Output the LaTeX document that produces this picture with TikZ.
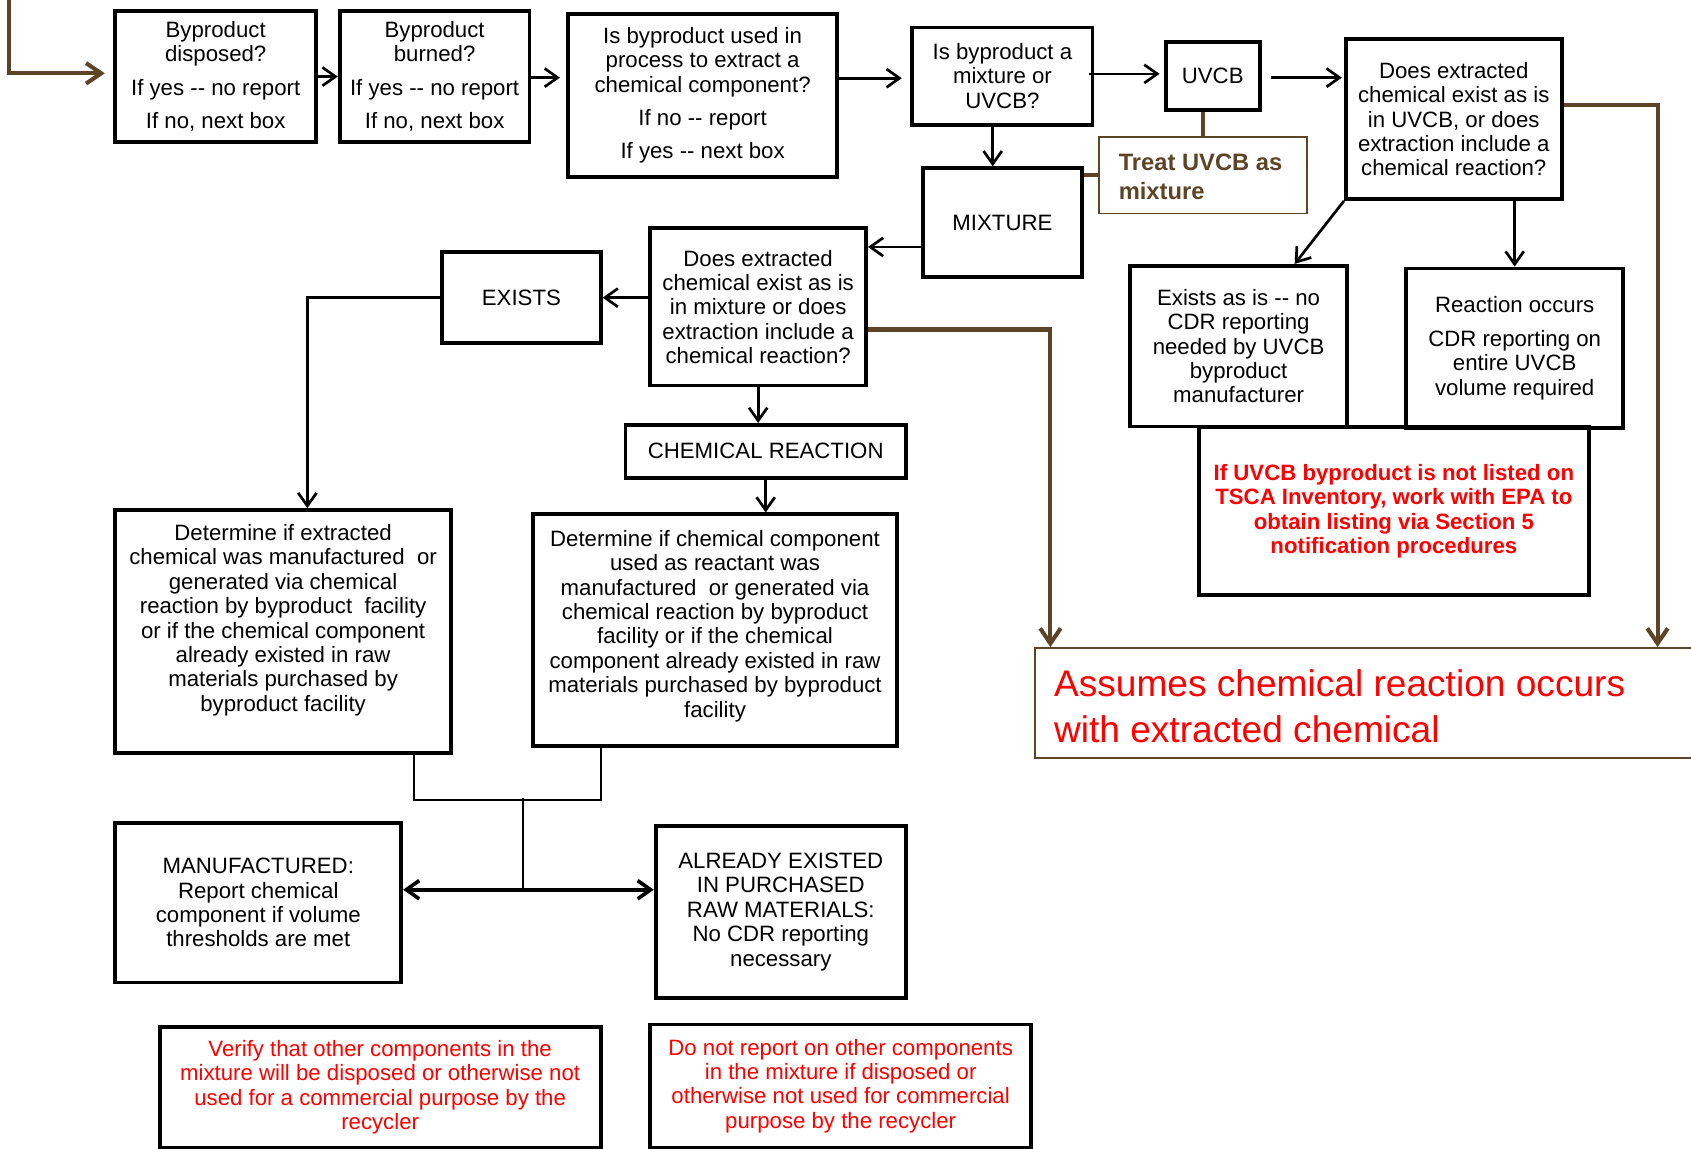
\documentclass[tikz,border=0pt]{standalone}
\usepackage{fontspec}
\setmainfont{Liberation Sans}
\usetikzlibrary{arrows.meta,calc}
\definecolor{brn}{RGB}{94,68,38}
\definecolor{rd}{RGB}{255,0,0}
\begin{document}
\begin{tikzpicture}[x=0.5pt,y=-0.5pt,
  f/.style={font=\fontsize{10.3}{11.3}\selectfont},
  box/.style={draw, line width=1.8pt, inner sep=0pt, align=center, f},
  txt/.style={inner sep=0pt, align=center, f},
  arr/.style={line width=1.25pt, -{Straight Barb[length=6pt,width=8.5pt]}},
  ln/.style={line width=1pt},
  barr/.style={draw=brn, line width=1.9pt, -{Straight Barb[length=7pt,width=9.5pt]}},
  bln/.style={draw=brn, line width=1.9pt},
]
\useasboundingbox (0,0) rectangle (1568,1065);

% boxes
\node[box, minimum width=93pt, minimum height=61pt] (b1) at (200,71)
  {Byproduct\\disposed?\\[4.2pt]If yes -{}- no report\\[4.2pt]If no, next box};
\node[box, minimum width=88pt, minimum height=61pt] (b2) at (403,71)
  {Byproduct\\burned?\\[4.2pt]If yes -{}- no report\\[4.2pt]If no, next box};
\node[box, minimum width=124.5pt, minimum height=75.5pt] (b3) at (651.5,88.5)
  {Is byproduct used in\\process to extract a\\chemical component?\\[4.2pt]If no -{}- report\\[4.2pt]If yes -{}- next box};
\node[box, minimum width=83.5pt, minimum height=45pt] (b4) at (929.5,70.5)
  {Is byproduct a\\mixture or\\UVCB?};
\node[box, minimum width=43.5pt, minimum height=31.5pt] (uvcb) at (1124.5,70.5) {UVCB};
\node[draw=brn, line width=0.8pt, minimum width=96.5pt, minimum height=35.5pt, inner sep=0pt] (treat) at (1115.5,162.5) {};
\node[anchor=west, inner sep=0pt, align=left, text=brn, font=\bfseries\fontsize{11}{13.5}\selectfont] (treatt) at (1037,164)
  {Treat UVCB as\\mixture};
\node[box, minimum width=100pt, minimum height=74pt] (ext) at (1348,110.5)
  {Does extracted\\chemical exist as is\\in UVCB, or does\\extraction include a\\chemical reaction?};
\node[box, minimum width=73.5pt, minimum height=50.5pt] (mix) at (929.5,206.5) {MIXTURE};
\node[box, minimum width=100pt, minimum height=73pt] (dmix) at (703,284.5)
  {Does extracted\\chemical exist as is\\in mixture or does\\extraction include a\\chemical reaction?};
\node[box, minimum width=73.5pt, minimum height=42pt] (exists) at (483.5,276) {EXISTS};
\node[box, minimum width=130pt, minimum height=24.5pt] (chem) at (710,418.5) {CHEMICAL REACTION};
\node[box, minimum width=100.5pt, minimum height=74.5pt] (nocdr) at (1148.5,321)
  {Exists as is -{}- no\\CDR reporting\\needed by UVCB\\byproduct\\manufacturer};
\node[box, minimum width=100.5pt, minimum height=74pt] (react) at (1404.5,323)
  {Reaction occurs\\[4.2pt]CDR reporting on\\entire UVCB\\volume required};
\node[box, minimum width=180.5pt, minimum height=78pt, text=rd, font=\bfseries\fontsize{10.3}{11.3}\selectfont] (redbox) at (1292.5,474)
  {If UVCB byproduct is not listed on\\TSCA Inventory, work with EPA to\\obtain listing via Section 5\\notification procedures};
\node[box, minimum width=155.5pt, minimum height=112.5pt] (detl) at (262.5,585.5) {};
\node[txt] (detlt) at (262.5,575)
  {Determine if extracted\\chemical was manufactured~ or\\generated via chemical\\reaction by byproduct~ facility\\or if the chemical component\\already existed in raw\\materials purchased by\\byproduct facility};
\node[box, minimum width=169pt, minimum height=107.5pt] (detm) at (663,584.5) {};
\node[txt] (detmt) at (663,580.5)
  {Determine if chemical component\\used as reactant was\\manufactured~ or generated via\\chemical reaction by byproduct\\facility or if the chemical\\component already existed in raw\\materials purchased by byproduct\\facility};
\node[box, minimum width=132.5pt, minimum height=74pt] (manu) at (239.5,837)
  {MANUFACTURED:\\Report chemical\\component if volume\\thresholds are met};
\node[box, minimum width=116pt, minimum height=79.5pt] (already) at (724,845.5)
  {ALREADY EXISTED\\IN PURCHASED\\RAW MATERIALS:\\No CDR reporting\\necessary};
\node[box, minimum width=204.5pt, minimum height=56pt, text=rd] (verify) at (352.5,1008)
  {Verify that other components in the\\mixture will be disposed or otherwise not\\used for a commercial purpose by the\\recycler};
\node[box, minimum width=176.5pt, minimum height=57pt, text=rd] (donot) at (779.5,1007)
  {Do not report on other components\\in the mixture if disposed or\\otherwise not used for commercial\\purpose by the recycler};
\node[draw=brn, line width=1pt, minimum width=310pt, minimum height=51pt, inner sep=0pt] (assumes) at (1270,652) {};
\node[anchor=west, inner sep=0pt, align=left, text=rd, font=\fontsize{17.2}{21}\selectfont] (assumest) at (977,655)
  {Assumes chemical reaction occurs\\with extracted chemical};

% connectors
\coordinate (start) at (8,-4);
\draw[barr, shorten >=4pt] (start) |- ($(b1.west)+(0,-3)$);
\draw[arr] (b1.east) -- (b2.west);
\draw[arr, shorten >=3pt] ($(b2.east)+(0,1)$) -- ($(b2.east -| b3.west)+(0,1)$);
\draw[arr, shorten >=4pt] ($(b3.east |- b4.west)+(0,2)$) -- ($(b4.west)+(0,2)$);
\draw[arr, shorten >=2pt] ($(b4.east)+(-5,-2)$) -- ($(b4.east -| uvcb.west)+(0,-2)$);
\draw[arr, shorten >=1pt] ($(uvcb.east)+(9,1.5)$) -- ($(uvcb.east -| ext.west)+(0,1.5)$);
\draw[arr] ($(b4.south)+(-9,0)$) -- ($(mix.north)+(-9,0)$);
\draw[bln] (uvcb.south -| treat.north) -- (treat.north);
\draw[bln] (treat.west) -- (treat.west -| mix.east);
\draw[arr] ($(mix.west)+(0,22.5)$) -- ($(mix.west -| dmix.east)+(0,22.5)$);
\draw[arr] (dmix.west |- exists.east) -- (exists.east);
\draw[arr] (exists.west) -| ($(detl.north)+(22.5,0)$);
\draw[arr] (dmix.south) -- (dmix.south |- chem.north);
\draw[arr] (chem.south) -- (chem.south |- detm.north);
\draw[barr] ($(dmix.east)+(0,21)$) -| ($(assumes.north west)+(15,0)$);
\draw[barr] ($(ext.east)+(0,-13)$) -| ($(assumes.north west)+(578,0)$);
\draw[arr] (ext.south west) -- ($(nocdr.north)+(52,0)$);
\draw[arr] (react.north |- ext.south) -- (react.north);

\coordinate (j1) at (384,742);
\coordinate (j2) at (557,742);
\coordinate (j3) at (485,740);
\coordinate (j4) at (485,825);
\draw[ln] (detl.south -| j1) -- (j1) -- (j2) -- (detm.south -| j2);
\draw[ln] (j3) -- (j4);
\draw[arr, line width=1.7pt] (j4) -- (j4 -| manu.east);
\draw[arr, line width=1.7pt] (j4) -- (j4 -| already.west);
\end{tikzpicture}
\end{document}
